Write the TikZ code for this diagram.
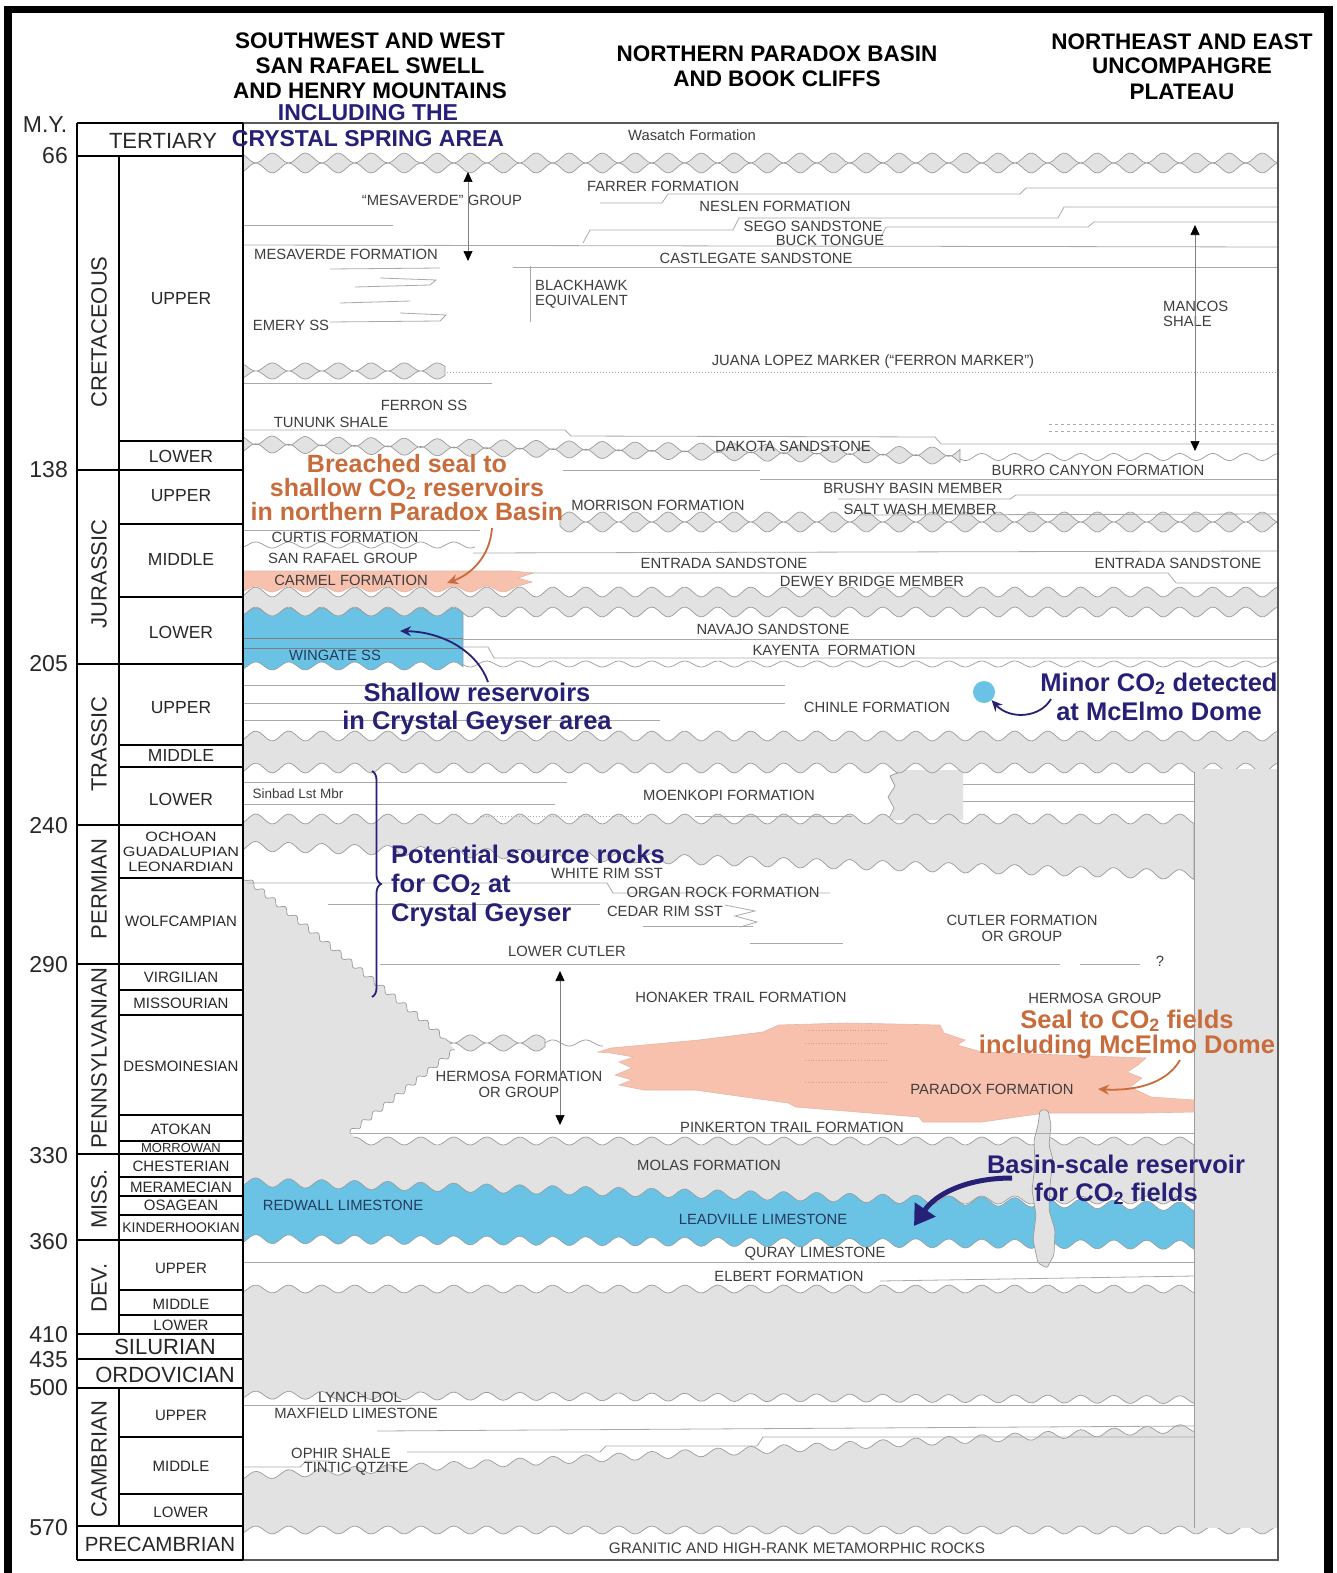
\documentclass[tikz,border=0pt]{standalone}
\usepackage{fontspec}
\setmainfont{Liberation Sans}
\usetikzlibrary{arrows.meta,decorations.pathreplacing}
\definecolor{gfill}{RGB}{226,226,226}
\definecolor{gline}{RGB}{155,155,155}
\definecolor{tline}{RGB}{170,170,170}
\definecolor{salmon}{RGB}{247,193,174}
\definecolor{sky}{RGB}{106,194,228}
\definecolor{navy}{RGB}{38,32,118}
\definecolor{rust}{RGB}{200,108,60}
\definecolor{lbl}{RGB}{62,62,62}
\definecolor{tbl}{RGB}{40,40,40}
\definecolor{slate}{RGB}{35,60,95}
\newcommand{\fs}[2]{\fontsize{#1}{#2}\selectfont}
\def\nsamp{300}
\newcommand{\band}[9]{\path[#1] plot[domain=#2:#3,samples=\nsamp] (\x,{(#4)+#6*sin(\x/#7*360+#8)}) -- plot[domain=#3:#2,samples=\nsamp] (\x,{(#5)+#6*sin(\x/#7*360+#9)}) -- cycle;}
\newcommand{\wline}[6]{\draw[#1] plot[domain=#2:#3,samples=\nsamp] (\x,{(#4)+#5*sin(\x/33*360+#6)});}
\tikzset{
 gband/.style={fill=gfill,draw=gline,line width=0.7pt},
 bband/.style={fill=sky,draw=gline,line width=0.6pt},
 sband/.style={fill=salmon,draw=salmon!85!gray,line width=0.6pt},
 tl/.style={draw=tline,line width=0.8pt},
 wl/.style={draw=gline,line width=0.7pt},
 lab/.style={text=lbl,font=\fs{14.8}{16},inner sep=0pt},
 sub/.style={text=tbl,font=\fs{17.5}{18},inner sep=0pt},
 subs/.style={text=tbl,font=\fs{15}{16},inner sep=0pt},
 per/.style={text=tbl,font=\fs{22}{24},inner sep=0pt},
 age/.style={text=tbl,font=\fs{23}{24},anchor=east,inner sep=0pt},
 hdr/.style={text=black,font=\bfseries\fs{22.5}{26},inner sep=0pt},
 callN/.style={text=navy,font=\bfseries\fs{25.5}{28.5},inner sep=0pt,anchor=base},
 callO/.style={text=rust,font=\bfseries\fs{25}{23.5},inner sep=0pt,anchor=base},
 dbl/.style={draw=gray,line width=0.7pt,arrows={Triangle[length=10pt,width=9pt,color=black]-Triangle[length=10pt,width=9pt,color=black]}},
 rarr/.style={draw=rust,line width=1.8pt,arrows={-Stealth[length=11pt,width=10pt]}},
 narr/.style={draw=navy,line width=1.8pt,arrows={-Stealth[length=11pt,width=10pt]}},
 bigarr/.style={draw=navy,line width=5pt,arrows={-Triangle[length=20pt,width=24pt]}},
 tblline/.style={draw=black,line width=2pt},
}
\begin{document}
\begin{tikzpicture}[x=1pt,y=-1pt]
\useasboundingbox (0,0) rectangle (1336,1573);
\fill[white] (0,0) rectangle (1336,1573);
% ---------- gray unconformity bands ----------
\band{gband}{243}{1278}{158}{168}{5}{33}{180}{0}
\band{gband}{243}{445}{367}{375}{4}{33}{180}{0}
\band{gband}{243}{960}{440+(\x-243)*0.0167}{448+(\x-243)*0.0167}{4.5}{33}{180}{0}
\wline{wl}{960}{1278}{457}{3.5}{0}
\band{gband}{560}{1278}{517}{527}{5}{33}{180}{0}
\wline{wl}{243}{475}{545}{3}{0}
\band{gband}{243}{1278}{592}{612}{5}{33}{0}{0}
\wline{wl}{463}{1278}{664}{3}{0}
\fill[gfill] (900,770) -- (963,770) -- (963,820) -- (889,820) -- (894,808) -- (888,797) -- (895,786) -- (890,776) -- cycle;
\draw[wl] (900,772) -- (890,776) -- (895,786) -- (888,797) -- (894,808) -- (889,818);
\band{gband}{243}{1278}{736}{768}{5}{33}{0}{0}
\band{gband}{243}{1194}{819}{846+(\x-243)*0.0305}{5}{33}{0}{0}
\band{gband}{445}{545}{1039}{1047}{4}{33}{180}{0}
\wline{wl}{545}{603}{1043}{3}{0}
\band{gband}{345}{1194}{1141}{1200}{4}{33}{0}{0}
\band{gband}{243}{1278}{1289}{1395+(\x-243)*0.005}{4}{33}{0}{0}
\band{gband}{243}{1278}{1476-(\x-243)*0.0505}{1530}{4}{33}{0}{0}
% right column
\fill[gfill] (1194,769) rectangle (1277.5,1528);
\draw[wl] (1194,772) -- (1194,1528);
% left wedge
\fill[gfill] plot[domain=0:1,samples=150] ({243+202*\x-1.6*sin(\x*6660)},{876+162*\x+2*sin(\x*6660)}) -- plot[domain=0:1,samples=90] ({455-105*\x-1.5*sin(\x*3420)},{1050+83*\x-1.9*sin(\x*3420)}) -- (353,1136) -- (353,1192) -- (243,1192) -- cycle;
\draw[wl] plot[domain=0:1,samples=150] ({243+202*\x-1.6*sin(\x*6660)},{876+162*\x+2*sin(\x*6660)});
\draw[wl] plot[domain=0:1,samples=90] ({455-105*\x-1.5*sin(\x*3420)},{1050+83*\x-1.9*sin(\x*3420)});
% ---------- salmon ----------
\path[sband] (243,571) -- (512,571) -- (533,573) -- (518,578) -- (532,582) -- (515,587) -- plot[domain=515:243,samples=80] (\x,{589+3*sin(\x/33*360)}) -- cycle;
\path[sband] (598,1052) -- (611,1048) -- (699,1040) -- (763,1032) -- (779,1025) -- (847,1023) -- (940,1025) -- (944,1033) -- (965,1040) -- (957,1045) -- (982,1052) -- (1146,1058) -- (1138,1065) -- (1127,1072) -- (1142,1078) -- (1130,1087) -- (1151,1097) -- (1194,1100) -- (1194,1112) -- (1142,1113) -- (1045,1113) -- (982,1122) -- (923,1122) -- (919,1117) -- (796,1107) -- (788,1103) -- (695,1090) -- (644,1090) -- (619,1085) -- (632,1080) -- (615,1075) -- (632,1068) -- (619,1062) -- (634,1057) -- (611,1053) -- cycle;
\foreach \yy in {1030,1043,1060,1082} \draw[salmon!55!gray,dotted,line width=0.8pt] (805,\yy) -- (889,\yy);
% ---------- blue ----------
\path[bband] plot[domain=243:463,samples=80] (\x,{612+4*sin(\x/33*360)}) -- plot[domain=463:243,samples=80] (\x,{666+4*sin(\x/33*360)}) -- cycle;
\draw[gray,line width=0.7pt] (243,638) -- (463,638);
\draw[gray,line width=0.7pt] (243,648) -- (463,648);
\band{bband}{243}{1194}{1182+(\x-243)*0.026}{1239+(\x-243)*0.0063}{4.5}{33}{0}{0}
% diapir
\path[fill=gfill,draw=gline,line width=0.7pt,rounded corners=2pt] (1040,1110) -- (1048,1110) -- (1051,1125) -- (1049,1145) -- (1053,1160) -- (1050,1185) -- (1049,1210) -- (1055,1230) -- (1054,1255) -- (1047,1268) -- (1038,1263) -- (1033,1240) -- (1036,1215) -- (1032,1190) -- (1035,1165) -- (1034,1140) -- (1038,1125) -- cycle;
% ---------- thin correlation lines ----------
\draw[tl] (243,225) -- (393,225);
\draw[tl] (243,245) -- (1278,247);
\draw[tl] (600,203) -- (662,203) -- (668,194) -- (1020,194) -- (1026,188) -- (1278,188);
\draw[tl] (583,243) -- (590,230) -- (733,230) -- (739,218) -- (1058,218) -- (1064,207) -- (1278,207);
\draw[tl] (880,239) -- (886,227) -- (1088,227) -- (1094,222) -- (1278,222);
\draw[tl] (513,267) -- (1278,267);
\draw[tl] (330,322) -- (440,321) -- (446,315) -- (400,313);
\draw[tl] (340,303) -- (410,301);
\draw[tl] (355,287) -- (430,285) -- (436,280) -- (380,278);
\draw[tl] (330,269) -- (440,268);
\draw[tl] (530,266) -- (530,322);
\draw[tline,dotted,line width=1pt] (447,372) -- (1278,372);
\draw[tl] (243,383) -- (492,383);
\draw[tl] (243,430) -- (565,430) -- (571,436) -- (935,437) -- (941,444) -- (1278,444);
\draw[tline,dashed,line width=0.8pt] (1049,424) -- (1278,424);
\draw[tline,dashed,line width=0.8pt] (1049,431) -- (1278,431);
\draw[tl] (563,470) -- (760,470);
\draw[tl] (760,479) -- (1278,479);
\draw[tl] (838,499) -- (1010,499) -- (1016,495) -- (1278,495);
\draw[tl] (860,515) -- (1278,514);
\draw[tl] (243,530) -- (480,530);
\draw[tl] (473,553) -- (1278,551);
\draw[tl] (530,573) -- (1168,573) -- (1176,583) -- (1278,583);
\draw[tl] (463,639) -- (1278,639);
\draw[tl] (463,647) -- (488,647) -- (494,658) -- (1278,658);
\draw[tl] (243,685) -- (785,685);
\draw[tl] (243,703) -- (785,703);
\draw[tl] (243,720) -- (660,720);
\draw[tl] (243,782) -- (567,782);
\draw[tl] (243,804) -- (555,804);
\draw[tl] (695,816) -- (852,816);
\draw[tline,dotted,line width=0.8pt] (480,816) -- (640,816);
\draw[tl] (963,784) -- (1194,784);
\draw[tl] (963,801) -- (1194,801);
\draw[tl] (247,883) -- (607,883) -- (613,893) -- (830,893);
\draw[tl] (328,904) -- (600,904);
\draw[tl] (643,926) -- (753,926);
\draw[tl] (750,943) -- (843,943);
\draw[tl] (725,905) -- (755,911) -- (735,916) -- (757,922) -- (740,927);
\draw[tl] (380,964) -- (1060,964);
\draw[tl] (1080,964) -- (1140,964);
\draw[tl] (350,1133) -- (1194,1133);
\draw[tl] (243,1262) -- (1194,1262);
\draw[tl] (880,1281) -- (1194,1276);
\draw[tl] (243,1405) -- (1194,1405);
\draw[tl] (377,1431) -- (1194,1426);
\draw[tl] (407,1452) -- (600,1452) -- (606,1446) -- (757,1446) -- (763,1437) -- (1194,1437);
\draw[tl] (243,1467) -- (300,1467) -- (306,1461) -- (330,1461);
% ---------- main box ----------
\draw[draw=gray!70!black,line width=1.3pt] (243,123) -- (1278,123) -- (1278,1560) -- (243,1560);
% ---------- time table ----------
\fill[white] (77,123) rectangle (243,1560);
\foreach \yy in {123,156,470,664,825,964,1154,1240,1334,1359,1388,1526,1560} \draw[tblline] (77,\yy) -- (243,\yy);
\foreach \yy in {441,524,597,745,766.5,878,990,1015,1115,1141,1177,1196,1215,1290,1315,1437,1494} \draw[tblline] (119,\yy) -- (243,\yy);
\draw[black,line width=1.6pt] (77,123) -- (77,1560);
\draw[black,line width=1.6pt] (243,123) -- (243,1560);
\draw[black,line width=1.6pt] (119,156) -- (119,1334);
\draw[black,line width=1.6pt] (119,1388) -- (119,1526);
% outer frame
\draw[black,line width=8pt] (8,6) -- (8,1573);
\draw[black,line width=7pt] (4,10) -- (1333,10);
\draw[black,line width=9pt] (1328,6) -- (1328,1573);
% ---------- ages ----------
\node[text=tbl,font=\fs{23}{24},inner sep=0pt] (my) at (45,125) {M.Y.};
\node[age] (a66) at (68,156) {66};
\node[age] (a138) at (68,470) {138};
\node[age] (a205) at (68,664) {205};
\node[age] (a240) at (68,826) {240};
\node[age] (a290) at (68,965) {290};
\node[age] (a330) at (68,1156) {330};
\node[age] (a360) at (68,1242) {360};
\node[age] (a410) at (68,1335) {410};
\node[age] (a435) at (68,1360) {435};
\node[age] (a500) at (68,1388) {500};
\node[age] (a570) at (68,1528) {570};
% ---------- periods ----------
\node[per] (tert) at (163,141) {TERTIARY};
\node[per,rotate=90] (cret) at (99,332) {CRETACEOUS};
\node[per,rotate=90] (jur) at (99,574) {JURASSIC};
\node[per,rotate=90] (tri) at (99,744) {TRASSIC};
\node[per,rotate=90] (perm) at (99,889) {PERMIAN};
\node[per,rotate=90] (penn) at (99,1058) {PENNSYLVANIAN};
\node[per,rotate=90] (miss) at (99,1199) {MISS.};
\node[per,rotate=90] (dev) at (99,1288) {DEV.};
\node[per,rotate=90] (camb) at (99,1459) {CAMBRIAN};
\node[per] (sil) at (165,1347) {SILURIAN};
\node[per] (ord) at (165,1375) {ORDOVICIAN};
\node[per,font=\fs{20.5}{22}] (prec) at (160,1544) {PRECAMBRIAN};
% ---------- epochs ----------
\node[sub] (e1) at (181,299) {UPPER};
\node[sub] (e2) at (181,456) {LOWER};
\node[sub] (e3) at (181,496) {UPPER};
\node[sub] (e4) at (181,559) {MIDDLE};
\node[sub] (e5) at (181,632) {LOWER};
\node[sub] (e6) at (181,708) {UPPER};
\node[sub] (e7) at (181,755) {MIDDLE};
\node[sub] (e8) at (181,799) {LOWER};
\node[subs,font=\fs{13.5}{14}] (e9) at (181,837) {\scalebox{1.2}[1]{OCHOAN}};
\node[subs,font=\fs{13.5}{14}] (e10) at (181,852) {\scalebox{1.2}[1]{GUADALUPIAN}};
\node[subs,font=\fs{13.5}{14}] (e11) at (181,867) {\scalebox{1.2}[1]{LEONARDIAN}};
\node[subs] (e12) at (181,921) {WOLFCAMPIAN};
\node[subs] (e13) at (181,977) {VIRGILIAN};
\node[subs] (e14) at (181,1003) {MISSOURIAN};
\node[subs] (e15) at (181,1066) {DESMOINESIAN};
\node[subs] (e16) at (181,1129) {ATOKAN};
\node[subs,font=\fs{13}{14}] (e17) at (181,1148) {MORROWAN};
\node[subs] (e18) at (181,1166) {CHESTERIAN};
\node[subs] (e19) at (181,1187) {MERAMECIAN};
\node[subs] (e20) at (181,1205) {OSAGEAN};
\node[subs,font=\fs{14}{15}] (e21) at (181,1228) {KINDERHOOKIAN};
\node[subs] (e22) at (181,1268) {UPPER};
\node[subs] (e23) at (181,1304) {MIDDLE};
\node[subs] (e24) at (181,1325) {LOWER};
\node[subs] (e25) at (181,1415) {UPPER};
\node[subs] (e26) at (181,1466) {MIDDLE};
\node[subs] (e27) at (181,1512) {LOWER};
% ---------- headers ----------
\node[hdr] (h1a) at (370,41) {SOUTHWEST AND WEST};
\node[hdr] (h1b) at (370,66) {SAN RAFAEL SWELL};
\node[hdr] (h1c) at (370,91) {AND HENRY MOUNTAINS};
\node[hdr,text=navy,font=\bfseries\fs{23}{26}] (h1d) at (368,113) {INCLUDING THE};
\node[hdr,text=navy,font=\bfseries\fs{23}{26}] (h1e) at (368,139) {CRYSTAL SPRING AREA};
\node[hdr] (h2a) at (777,54) {NORTHERN PARADOX BASIN};
\node[hdr] (h2b) at (777,79) {AND BOOK CLIFFS};
\node[hdr] (h3a) at (1182,42) {NORTHEAST AND EAST};
\node[hdr] (h3b) at (1182,66) {UNCOMPAHGRE};
\node[hdr] (h3c) at (1182,92) {PLATEAU};
% ---------- formation labels ----------
\node[lab] (f1) at (692,135) {Wasatch Formation};
\node[lab] (f2) at (442,200) {“MESAVERDE” GROUP};
\node[lab] (f3) at (663,186) {FARRER FORMATION};
\node[lab] (f4) at (775,206) {NESLEN FORMATION};
\node[lab] (f5) at (813,226) {SEGO SANDSTONE};
\node[lab] (f6) at (830,240) {BUCK TONGUE};
\node[lab] (f7) at (756,258) {CASTLEGATE SANDSTONE};
\node[lab] (f8) at (346,254) {MESAVERDE FORMATION};
\node[lab,anchor=west,align=left,font=\fs{14.8}{15}] (f9) at (535,294) {BLACKHAWK\\EQUIVALENT};
\node[lab] (f10) at (291,325) {EMERY SS};
\node[lab,anchor=west,align=left,font=\fs{14.8}{15.5}] (f11) at (1163,314) {MANCOS\\SHALE};
\node[lab] (f12) at (873,362) {JUANA LOPEZ MARKER (“FERRON MARKER”)};
\node[lab] (f13) at (424,405) {FERRON SS};
\node[lab] (f14) at (331,422) {TUNUNK SHALE};
\node[lab] (f15) at (793,446) {DAKOTA SANDSTONE};
\node[lab] (f16) at (1098,470) {BURRO CANYON FORMATION};
\node[lab] (f17) at (913,488) {BRUSHY BASIN MEMBER};
\node[lab] (f18) at (920,509) {SALT WASH MEMBER};
\node[lab] (f19) at (658,505) {MORRISON FORMATION};
\node[lab] (f20) at (345,537) {CURTIS FORMATION};
\node[lab] (f21) at (343,558) {SAN RAFAEL GROUP};
\node[lab] (f22) at (351,580) {CARMEL FORMATION};
\node[lab] (f23) at (724,563) {ENTRADA SANDSTONE};
\node[lab] (f24) at (872,581) {DEWEY BRIDGE MEMBER};
\node[lab] (f25) at (1178,563) {ENTRADA SANDSTONE};
\node[lab] (f26) at (773,629) {NAVAJO SANDSTONE};
\node[lab] (f27) at (834,650) {KAYENTA\ \ FORMATION};
\node[lab,text=slate] (f28) at (335,655) {WINGATE SS};
\node[lab] (f29) at (877,707) {CHINLE FORMATION};
\node[lab,font=\fs{13.5}{14}] (f30) at (298,794) {Sinbad Lst Mbr};
\node[lab] (f31) at (729,795) {MOENKOPI FORMATION};
\node[lab] (f32) at (607,873) {WHITE RIM SST};
\node[lab] (f33) at (723,892) {ORGAN ROCK FORMATION};
\node[lab] (f34) at (665,911) {CEDAR RIM SST};
\node[lab] (f35) at (567,951) {LOWER CUTLER};
\node[lab,align=center,font=\fs{14.8}{16}] (f36) at (1022,928) {CUTLER FORMATION\\OR GROUP};
\node[lab] (f37) at (1160,961) {?};
\node[lab] (f38) at (741,997) {HONAKER TRAIL FORMATION};
\node[lab] (f39) at (1095,998) {HERMOSA GROUP};
\node[lab,align=center,font=\fs{14.8}{16}] (f40) at (519,1084) {HERMOSA FORMATION\\OR GROUP};
\node[lab] (f41) at (992,1089) {PARADOX FORMATION};
\node[lab] (f42) at (792,1127) {PINKERTON TRAIL FORMATION};
\node[lab] (f43) at (709,1165) {MOLAS FORMATION};
\node[lab,text=slate] (f44) at (343,1205) {REDWALL LIMESTONE};
\node[lab,text=slate] (f45) at (763,1219) {LEADVILLE LIMESTONE};
\node[lab] (f46) at (815,1254) {QURAY LIMESTONE};
\node[lab] (f47) at (789,1276) {ELBERT FORMATION};
\node[lab] (f48) at (360,1397) {LYNCH DOL};
\node[lab] (f49) at (356,1413) {MAXFIELD LIMESTONE};
\node[lab] (f50) at (341,1453) {OPHIR SHALE};
\node[lab] (f51) at (356,1469) {TINTIC QTZITE};
\node[lab,font=\fs{15.3}{16}] (f52) at (797,1548) {GRANITIC AND HIGH-RANK METAMORPHIC ROCKS};
% ---------- double arrows ----------
\coordinate (mvT) at (468,172); \coordinate (mvB) at (468,261);
\draw[dbl] (mvT) -- (mvB);
\coordinate (mcT) at (1195,225); \coordinate (mcB) at (1195,451);
\draw[dbl] (mcT) -- (mcB);
\coordinate (hmT) at (560,971); \coordinate (hmB) at (560,1125);
\draw[dbl] (hmT) -- (hmB);
% ---------- call-outs ----------
\node[callO] (c1a) at (407,472) {Breached seal to};
\node[callO] (c1b) at (407,496) {shallow CO\textsubscript{2} reservoirs};
\node[callO] (c1c) at (407,520) {in northern Paradox Basin};
\node[callN] (c2a) at (477,701) {Shallow reservoirs};
\node[callN] (c2b) at (477,729) {in Crystal Geyser area};
\node[callN] (c3a) at (1159,691) {Minor CO\textsubscript{2} detected};
\node[callN] (c3b) at (1159,720) {at McElmo Dome};
\node[callN,anchor=base west] (c4a) at (391,863) {Potential source rocks};
\node[callN,anchor=base west] (c4b) at (391,892) {for CO\textsubscript{2} at};
\node[callN,anchor=base west] (c4c) at (391,921) {Crystal Geyser};
\node[callO,font=\bfseries\fs{25.5}{25}] (c5a) at (1127,1028) {Seal to CO\textsubscript{2} fields};
\node[callO,font=\bfseries\fs{25.5}{25}] (c5b) at (1127,1053) {including McElmo Dome};
\node[callN] (c6a) at (1116,1173) {Basin-scale reservoir};
\node[callN] (c6b) at (1116,1201) {for CO\textsubscript{2} fields};
\node[circle,fill=sky,minimum size=22pt,inner sep=0pt] (dot) at (984,692) {};
% arrows
\coordinate (o1s) at (492,528); \coordinate (o1t) at (447,583);
\draw[rarr] (o1s) .. controls (490,556) and (472,574) .. (o1t);
\coordinate (n1s) at (488,682); \coordinate (n1t) at (400,631);
\draw[narr] (n1s) .. controls (478,653) and (445,632) .. (n1t);
\coordinate (n2s) at (1051,699);
\draw[narr] (n2s) .. controls (1040,718) and (1010,720) .. (dot);
\coordinate (o2s) at (1180,1060); \coordinate (o2t) at (1098,1089);
\draw[rarr] (o2s) .. controls (1165,1086) and (1130,1091) .. (o2t);
\coordinate (n3s) at (1012,1178); \coordinate (n3t) at (914,1226);
\draw[bigarr] (n3s) .. controls (965,1178) and (935,1195) .. (n3t);
% brace
\coordinate (brT) at (372,771); \coordinate (brB) at (372,997);
\draw[navy,line width=1.8pt,decorate,decoration={brace,amplitude=9pt}] (brT) -- (brB);
\end{tikzpicture}
\end{document}
